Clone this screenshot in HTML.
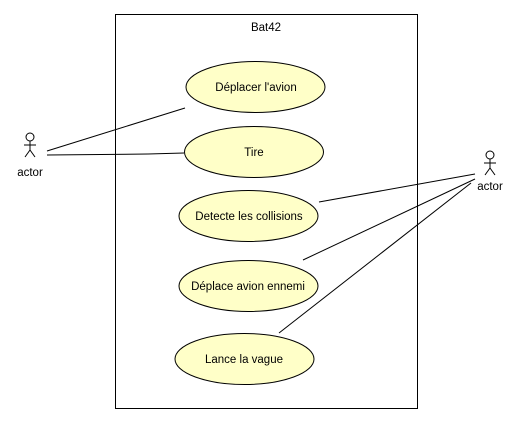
<!DOCTYPE html>
<html><head><style>
html,body{margin:0;padding:0;background:#fff;}
svg{display:block;}
text{font-family:"Liberation Sans",sans-serif;font-size:11.5px;fill:#000;}
</style></head><body>
<svg width="525" height="439" viewBox="0 0 525 439">
<rect x="115.5" y="14.5" width="302" height="394" fill="#fff" stroke="#000" stroke-width="1"/>
<text x="266" y="31" text-anchor="middle">Bat42</text>
<g fill="#ffffc8" stroke="#000" stroke-width="1">
<ellipse cx="255.5" cy="87" rx="69.5" ry="25.5"/>
<ellipse cx="254" cy="152" rx="69.5" ry="25.5"/>
<ellipse cx="248.5" cy="216" rx="69.5" ry="25.5"/>
<ellipse cx="248.5" cy="286" rx="69.5" ry="25.5"/>
<ellipse cx="244.5" cy="359" rx="69.5" ry="25.5"/>
</g>
<g text-anchor="middle">
<text x="256" y="91">Déplacer l'avion</text>
<text x="254" y="156">Tire</text>
<text x="249" y="220">Detecte les collisions</text>
<text x="248" y="290">Déplace avion ennemi</text>
<text x="244" y="363">Lance la vague</text>
</g>
<g stroke="#000" stroke-width="1" fill="none">
<line x1="47" y1="151" x2="185" y2="108"/>
<polyline points="47,155 148,154 184,153"/>
<line x1="475" y1="174" x2="319" y2="202"/>
<line x1="475" y1="179" x2="303" y2="260"/>
<line x1="471" y1="183" x2="279" y2="333"/>
</g>
<g stroke="#000" stroke-width="1" fill="#fff">
<circle cx="30" cy="137" r="4"/>
<line x1="30" y1="141" x2="30" y2="150"/>
<line x1="24" y1="145" x2="36" y2="145"/>
<line x1="30" y1="150" x2="25" y2="157"/>
<line x1="30" y1="150" x2="35" y2="157"/>
<circle cx="490" cy="155" r="4"/>
<line x1="490" y1="159" x2="490" y2="168"/>
<line x1="484" y1="163" x2="496" y2="163"/>
<line x1="490" y1="168" x2="485" y2="175"/>
<line x1="490" y1="168" x2="495" y2="175"/>
</g>
<text x="30" y="176" text-anchor="middle">actor</text>
<text x="490" y="190" text-anchor="middle">actor</text>
</svg>
</body></html>
